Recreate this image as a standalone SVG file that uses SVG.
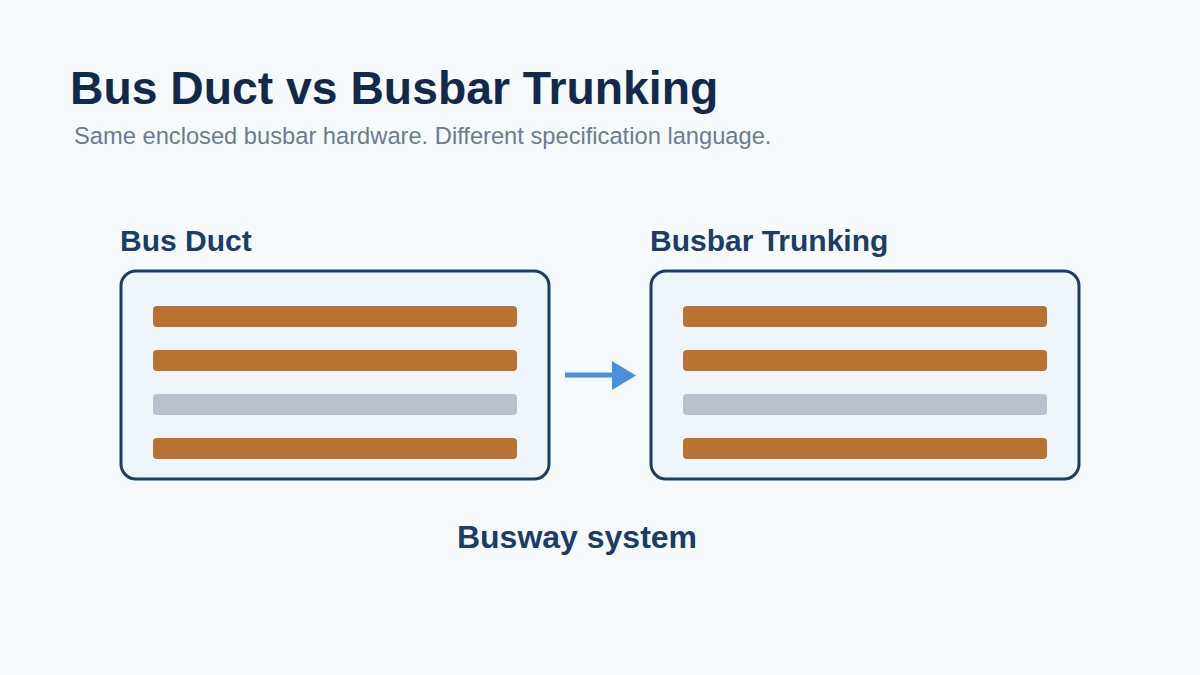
<svg xmlns="http://www.w3.org/2000/svg" width="1200" height="675" viewBox="0 0 1200 675">
<style>
.box{fill:#eef5fb;stroke:#1b3d66;stroke-width:3}
.cu{fill:#b87333}
.n{fill:#b8c2cc}
.lbl{font-family:"Liberation Sans",Arial,sans-serif;font-weight:bold;font-size:30px;fill:#1b3d66}
</style>
<rect width="1200" height="675" fill="#f6fafd"/>
<text x="70" y="104" font-family="Liberation Sans,Arial,sans-serif" font-weight="bold" font-size="46.3" fill="#13294b">Bus Duct vs Busbar Trunking</text>
<text x="74" y="144" font-family="Liberation Sans,Arial,sans-serif" font-size="23.7" fill="#6b7c8f">Same enclosed busbar hardware. Different specification language.</text>
<g id="busduct">
<text class="lbl" x="120" y="251">Bus Duct</text>
<rect class="box" x="121" y="271" width="428" height="208" rx="15"/>
<rect class="cu" x="153" y="306" width="364" height="21" rx="4"/>
<rect class="cu" x="153" y="350" width="364" height="21" rx="4"/>
<rect class="n" x="153" y="394" width="364" height="21" rx="4"/>
<rect class="cu" x="153" y="438" width="364" height="21" rx="4"/>
</g>
<g id="trunking">
<text class="lbl" x="650" y="251">Busbar Trunking</text>
<rect class="box" x="651" y="271" width="428" height="208" rx="15"/>
<rect class="cu" x="683" y="306" width="364" height="21" rx="4"/>
<rect class="cu" x="683" y="350" width="364" height="21" rx="4"/>
<rect class="n" x="683" y="394" width="364" height="21" rx="4"/>
<rect class="cu" x="683" y="438" width="364" height="21" rx="4"/>
</g>
<g id="connectors">
<line x1="565" y1="375" x2="614" y2="375" stroke="#4a90d9" stroke-width="5"/>
<polygon points="612,361 636,375.5 612,390" fill="#4a90d9"/>
</g>
<text class="lbl" x="577" y="548" text-anchor="middle" style="font-size:32px">Busway system</text>
</svg>
